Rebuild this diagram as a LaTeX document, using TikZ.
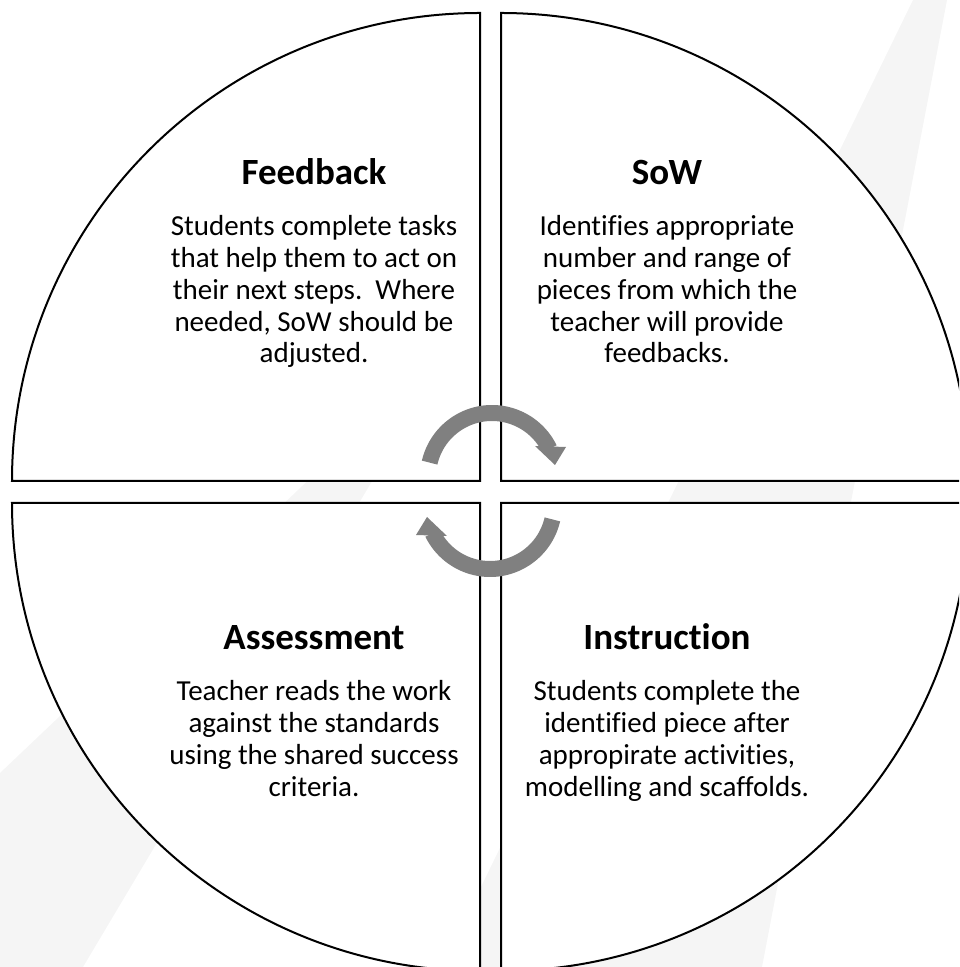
\documentclass[tikz,border=0pt]{standalone}
\usepackage{fontspec}
\setmainfont{Carlito}[RawFeature={-liga;-clig;-calt;-dlig}]
\definecolor{wm}{RGB}{245,245,245}
\definecolor{arrowgray}{RGB}{128,128,128}
\newcommand\blocklines[1]{\vtop{\fontsize{29}{31.7}\selectfont\baselineskip=31.7pt\lineskiplimit=-100pt\halign{\hfil##\hfil\cr#1\crcr}}}
\tikzset{
  quad/.style={draw=black, fill=white, line width=2pt, line join=miter},
  wmark/.style={fill=wm, draw=none},
  shaft/.style={draw=arrowgray, line width=16pt},
  headtip/.style={fill=arrowgray, draw=none},
  titletext/.style={inner sep=0pt, anchor=base, font=\fontsize{37}{40}\selectfont\bfseries},
  bodytext/.style={inner sep=0pt, anchor=base}
}
\begin{document}
\begin{tikzpicture}[x=1pt,y=1pt]
\useasboundingbox (0,0) rectangle (959,967);
\begin{scope}
\clip (0,0) rectangle (959,967);
% faint background watermark
\fill[wmark] (913,967) -- (947,967) -- (762,0) -- (442,0) -- cycle;
\fill[wmark] (0,194) -- (456,627) -- (83,0) -- (0,0) -- cycle;
% quadrants
\draw[quad] (480,486) -- (12,486) arc[start angle=180, end angle=90, radius=468] -- cycle;
\draw[quad] (501,486) -- (501,954) arc[start angle=90, end angle=0, radius=468] -- cycle;
\draw[quad] (480,464) -- (12,464) arc[start angle=180, end angle=270, radius=468] -- cycle;
\draw[quad] (501,464) -- (969,464) arc[start angle=0, end angle=-90, radius=468] -- cycle;
\end{scope}
% cycle arrows
\coordinate (c1) at (492,490);
\coordinate (c2) at (490,462);
\draw[shaft] (c1) ++(167:64) arc[start angle=167, end angle=26, radius=64];
\fill[headtip] (535,521) -- (566,520) -- (555,502) -- cycle;
\draw[shaft] (c2) ++(-13:64) arc[start angle=-13, end angle=-154, radius=64];
\fill[headtip] (447,431) -- (416,432) -- (427,450) -- cycle;
% texts
\node[titletext] (fbtitle) at (314,782) {Feedback};
\node[bodytext] (fbbody) at (314,731) {\blocklines{Students complete tasks\cr that help them to act on\cr their next steps.\ \ Where\cr needed, SoW should be\cr adjusted.}};
\node[titletext] (sowtitle) at (667,782) {SoW};
\node[bodytext] (sowbody) at (667,731) {\blocklines{Identifies appropriate\cr number and range of\cr pieces from which the\cr teacher will provide\cr feedbacks.}};
\node[titletext] (astitle) at (314,317) {Assessment};
\node[bodytext] (asbody) at (314,266) {\blocklines{Teacher reads the work\cr against the standards\cr using the shared success\cr criteria.}};
\node[titletext] (intitle) at (667,317) {Instruction};
\node[bodytext] (inbody) at (667,266) {\blocklines{Students complete the\cr identified piece after\cr appropirate activities,\cr modelling and scaffolds.}};
\end{tikzpicture}
\end{document}
